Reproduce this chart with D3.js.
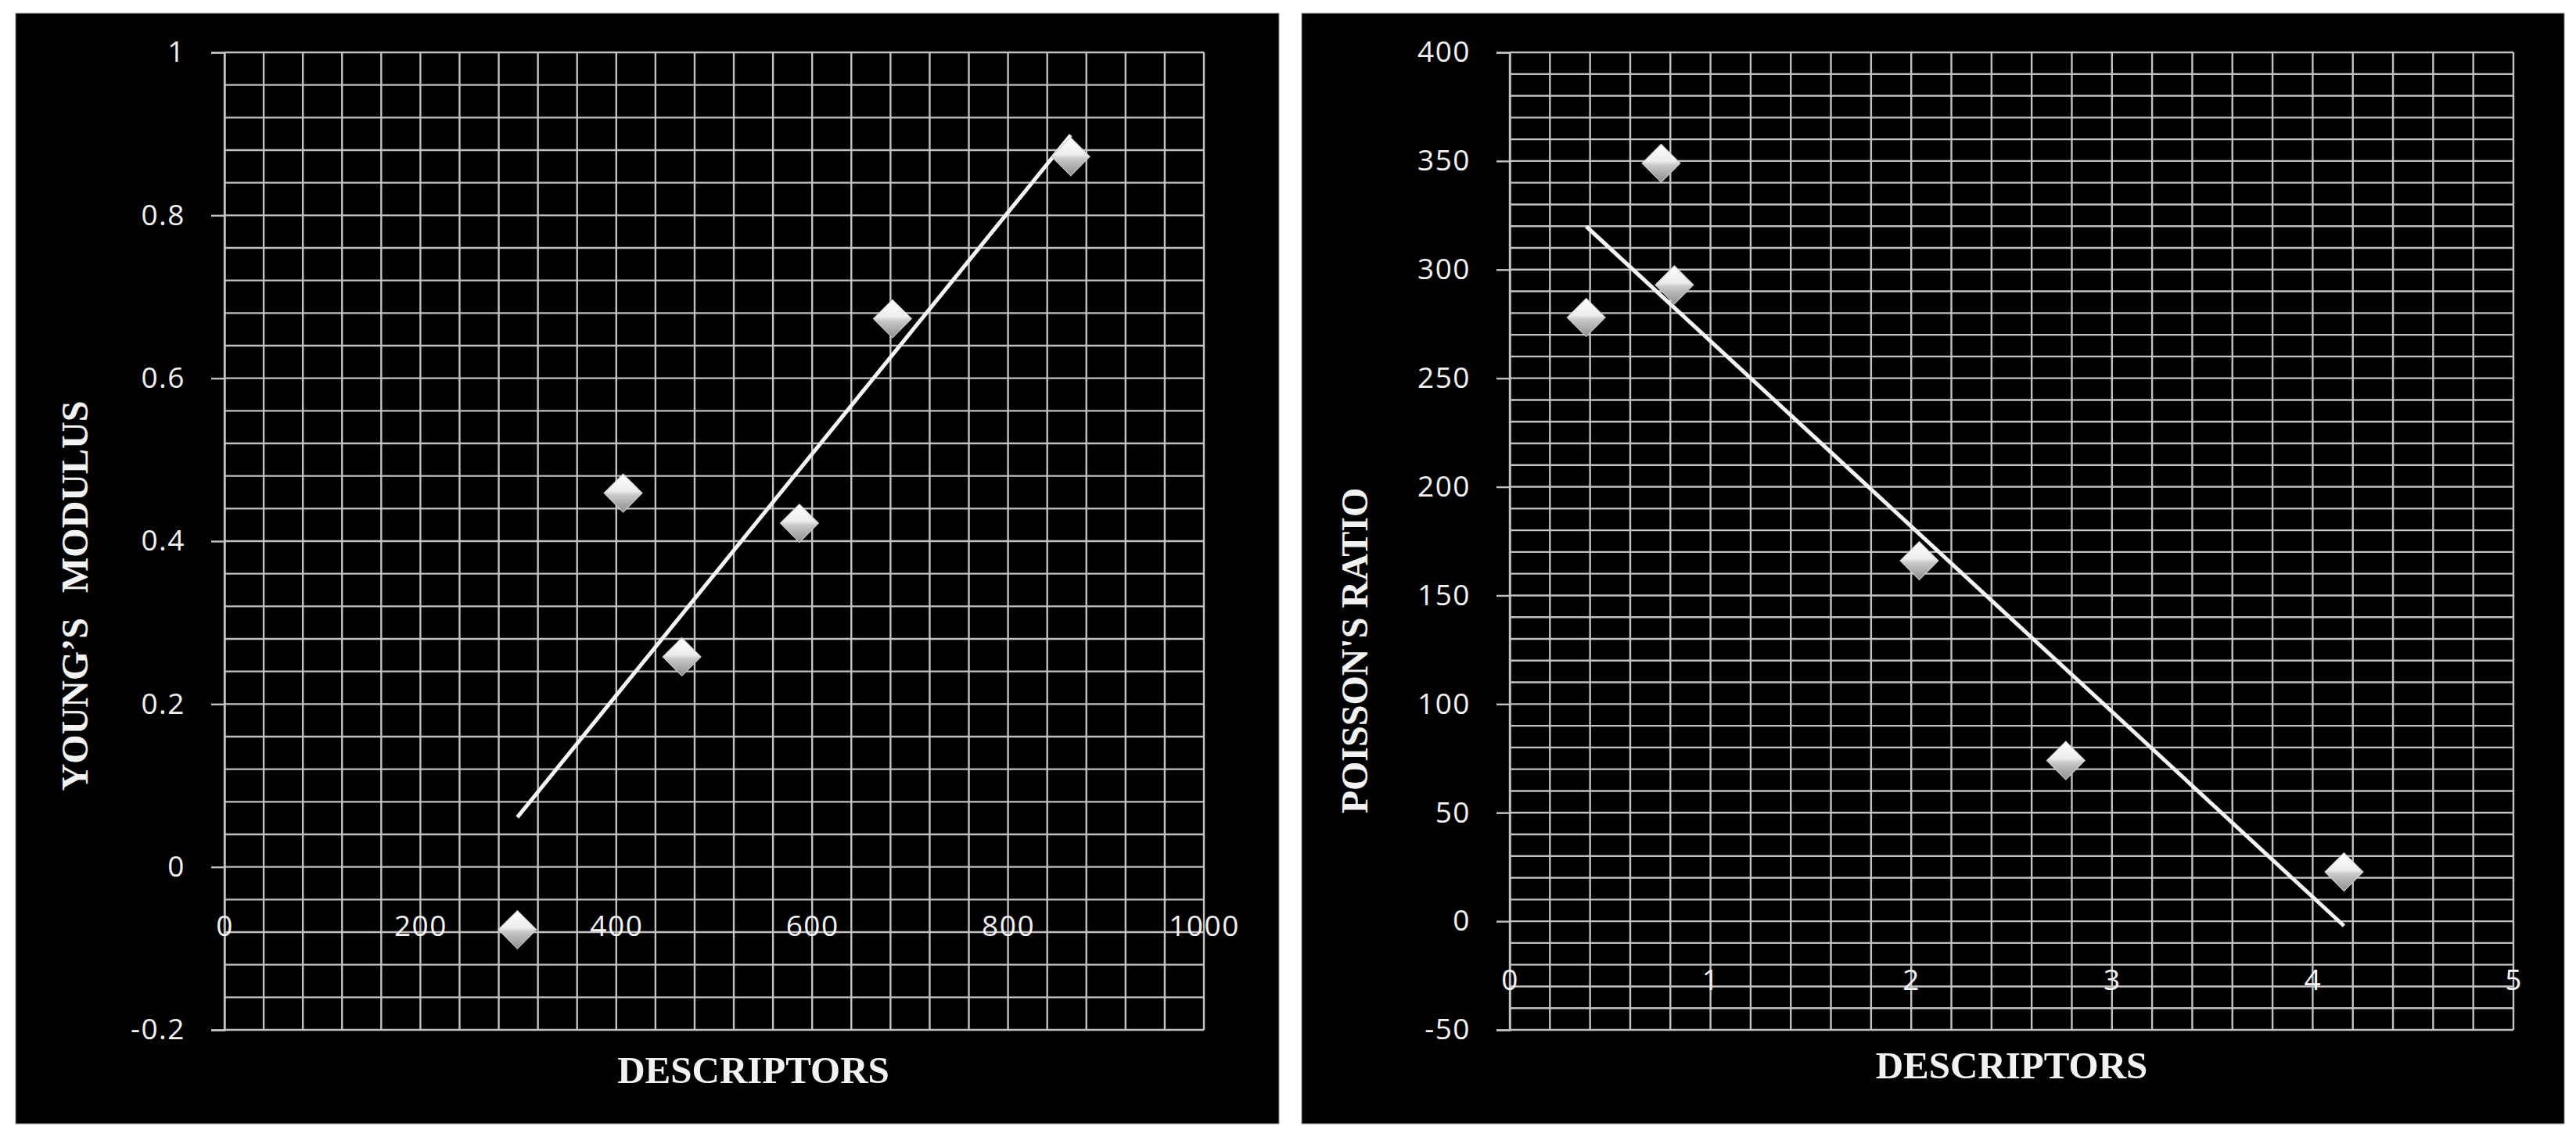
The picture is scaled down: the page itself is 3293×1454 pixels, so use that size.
<!DOCTYPE html>
<html>
<head>
<meta charset="utf-8">
<script src="https://cdn.jsdelivr.net/npm/d3@7"></script>
<style>
  html, body { margin: 0; padding: 0; background: #ffffff; }
  svg { display: block; }
</style>
</head>
<body>
<svg id="chart" width="3293" height="1454"></svg>
<script>
// ---------------- DATA ----------------
// Left chart: Young's modulus vs descriptors
const youngX = [299, 407, 467, 587, 682, 864];
const youngY = [-0.077, 0.459, 0.258, 0.422, 0.673, 0.872];
const youngXTicks = [0, 200, 400, 600, 800, 1000];
const youngXTickLabels = ["0", "200", "400", "600", "800", "1000"];
const youngYTicks = [1, 0.8, 0.6, 0.4, 0.2, 0, -0.2];
const youngYTickLabels = ["1", "0.8", "0.6", "0.4", "0.2", "0", "-0.2"];

// Right chart: Poisson's ratio vs descriptors
const poissonX = [0.381, 0.754, 0.82, 2.04, 2.77, 4.156];
const poissonY = [278, 349, 293, 166, 74, 22.7];
const poissonXTicks = [0, 1, 2, 3, 4, 5];
const poissonXTickLabels = ["0", "1", "2", "3", "4", "5"];
const poissonYTicks = [400, 350, 300, 250, 200, 150, 100, 50, 0, -50];
const poissonYTickLabels = ["400", "350", "300", "250", "200", "150", "100", "50", "0", "-50"];

const xTitle = "DESCRIPTORS";
const youngTitle = "YOUNG\u2019S MODULUS";
const poissonTitle = "POISSON'S RATIO";

// ---------------- LAYOUT ----------------
const svg = d3.select("#chart");
const GRID = "#c2c2c2";
const TEXT = "#f2f2f2";

const defs = svg.append("defs");
const grad = defs.append("linearGradient")
  .attr("id", "diamondGrad")
  .attr("x1", 0).attr("y1", 0).attr("x2", 1).attr("y2", 1);
grad.append("stop").attr("offset", "0%").attr("stop-color", "#ffffff");
grad.append("stop").attr("offset", "45%").attr("stop-color", "#ececec");
grad.append("stop").attr("offset", "55%").attr("stop-color", "#c9c9c9");
grad.append("stop").attr("offset", "100%").attr("stop-color", "#8e8e8e");

function drawChart(cfg) {
  // panel
  svg.append("rect")
    .attr("x", cfg.panel[0]).attr("y", cfg.panel[1])
    .attr("width", cfg.panel[2]).attr("height", cfg.panel[3])
    .attr("fill", "#000000")
    .attr("stroke", "#8a8a8a").attr("stroke-width", 1);

  const x = d3.scaleLinear().domain(cfg.xDomain).range([cfg.plot.left, cfg.plot.right]);
  const y = d3.scaleLinear().domain(cfg.yDomain).range([cfg.plot.bottom, cfg.plot.top]);

  const g = svg.append("g");

  // minor + major gridlines
  const xGrid = d3.range(cfg.xDomain[0], cfg.xDomain[1] + cfg.xMinor / 2, cfg.xMinor);
  const yGrid = d3.range(cfg.yDomain[0], cfg.yDomain[1] + cfg.yMinor / 2, cfg.yMinor);

  g.selectAll("line.vg").data(xGrid).join("line")
    .attr("x1", d => x(d)).attr("x2", d => x(d))
    .attr("y1", y(cfg.yDomain[0])).attr("y2", y(cfg.yDomain[1]))
    .attr("stroke", GRID).attr("stroke-width", 2.4);

  g.selectAll("line.hg").data(yGrid).join("line")
    .attr("x1", x(cfg.xDomain[0])).attr("x2", x(cfg.xDomain[1]))
    .attr("y1", d => y(d)).attr("y2", d => y(d))
    .attr("stroke", GRID).attr("stroke-width", 2.4);

  // y axis with outward ticks at major values
  const yAxis = d3.axisLeft(y).tickValues(cfg.yTicks).tickSize(17).tickPadding(33)
    .tickFormat((d, i) => cfg.yTickLabels[i]);
  const ya = g.append("g").attr("transform", `translate(${x(cfg.xDomain[0])},0)`).call(yAxis);
  ya.select(".domain").attr("stroke", GRID).attr("stroke-width", 2.4);
  ya.selectAll(".tick line").attr("stroke", GRID).attr("stroke-width", 2.4);
  ya.selectAll(".tick text")
    .attr("fill", TEXT)
    .attr("font-family", "'Open Sans', sans-serif")
    .attr("font-size", 37)
    .attr("letter-spacing", 1.5);

  // x tick labels (placed below the y=0 line, no tick marks)
  const xAxis = d3.axisBottom(x).tickValues(cfg.xTicks).tickSize(0).tickPadding(0)
    .tickFormat((d, i) => cfg.xTickLabels[i]);
  const xa = g.append("g").attr("transform", `translate(0,${y(0) + cfg.xLabelOffset})`).call(xAxis);
  xa.select(".domain").remove();
  xa.selectAll(".tick text")
    .attr("fill", TEXT)
    .attr("font-family", "'Open Sans', sans-serif")
    .attr("font-size", 37)
    .attr("letter-spacing", 1.5)
    .attr("dy", "0.35em");

  // trendline: least-squares fit of the data, spanning the data x range
  const pts = cfg.xs.map((v, i) => [v, cfg.ys[i]]);
  const mx = d3.mean(cfg.xs), my = d3.mean(cfg.ys);
  const sxy = d3.sum(pts, p => (p[0] - mx) * (p[1] - my));
  const sxx = d3.sum(pts, p => (p[0] - mx) * (p[0] - mx));
  const slope = sxy / sxx, icpt = my - slope * mx;
  const xmin = d3.min(cfg.xs), xmax = d3.max(cfg.xs);
  const trend = [[xmin, icpt + slope * xmin], [xmax, icpt + slope * xmax]];
  g.append("path")
    .datum(trend)
    .attr("d", d3.line().x(d => x(d[0])).y(d => y(d[1])))
    .attr("stroke", "#f4f4f4").attr("stroke-width", 5).attr("fill", "none");

  // diamond markers
  const sym = d3.symbol().type(d3.symbolSquare).size(1200);
  g.selectAll("path.pt").data(pts).join("path")
    .attr("d", sym)
    .attr("transform", d => `translate(${x(d[0])},${y(d[1])}) rotate(45)`)
    .attr("fill", "url(#diamondGrad)")
    .attr("stroke", "#d0d0d0").attr("stroke-width", 1);

  // axis titles
  g.append("text")
    .attr("x", (cfg.plot.left + cfg.plot.right) / 2 + cfg.xTitleShift)
    .attr("y", cfg.xTitleBaseline)
    .attr("text-anchor", "middle")
    .attr("font-family", "'Liberation Serif', 'Times New Roman', serif")
    .attr("font-weight", "bold")
    .attr("font-size", 49)
    .attr("fill", TEXT)
    .text(xTitle);

  g.append("text")
    .attr("transform", `translate(${cfg.yTitleBaselineX},${cfg.yTitleCenterY}) rotate(-90)`)
    .attr("text-anchor", "middle")
    .attr("font-family", "'Liberation Serif', 'Times New Roman', serif")
    .attr("font-weight", "bold")
    .attr("font-size", 48)
    .attr("word-spacing", cfg.yTitleWordSpacing)
    .attr("fill", TEXT)
    .text(cfg.yTitle);
}

drawChart({
  panel: [20, 17, 1615, 1420],
  plot: { left: 287, right: 1539, top: 67, bottom: 1317 },
  xDomain: [0, 1000], yDomain: [-0.2, 1],
  xMinor: 40, yMinor: 0.04,
  xTicks: youngXTicks, xTickLabels: youngXTickLabels,
  yTicks: youngYTicks, yTickLabels: youngYTickLabels,
  xs: youngX, ys: youngY,
  xLabelOffset: 75,
  xTitleShift: 50, xTitleBaseline: 1385,
  yTitle: youngTitle, yTitleBaselineX: 112, yTitleCenterY: 762, yTitleWordSpacing: 20
});

drawChart({
  panel: [1664, 17, 1614, 1420],
  plot: { left: 1930, right: 3213, top: 67, bottom: 1317 },
  xDomain: [0, 5], yDomain: [-50, 400],
  xMinor: 0.2, yMinor: 10,
  xTicks: poissonXTicks, xTickLabels: poissonXTickLabels,
  yTicks: poissonYTicks, yTickLabels: poissonYTickLabels,
  xs: poissonX, ys: poissonY,
  xLabelOffset: 75,
  xTitleShift: 0, xTitleBaseline: 1379,
  yTitle: poissonTitle, yTitleBaselineX: 1748, yTitleCenterY: 832, yTitleWordSpacing: 0
});
</script>
</body>
</html>
